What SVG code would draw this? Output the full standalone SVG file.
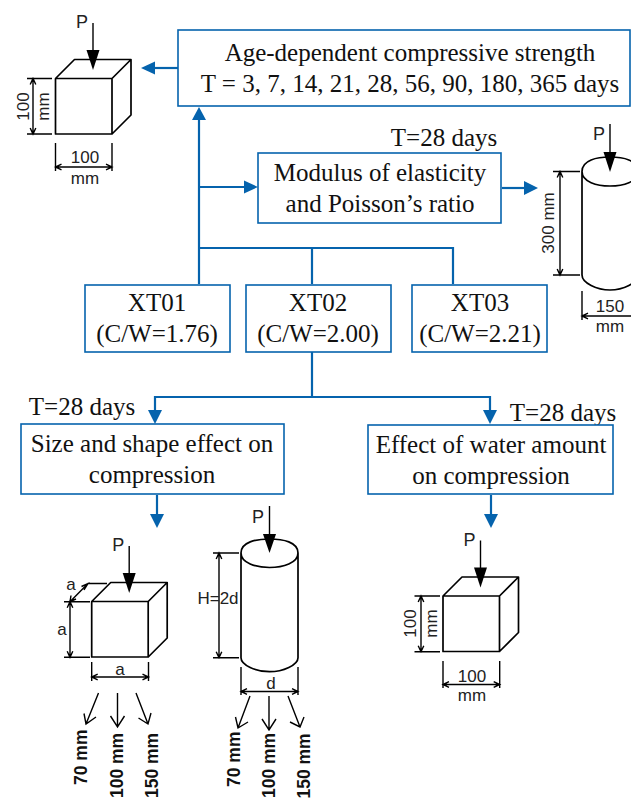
<svg xmlns="http://www.w3.org/2000/svg" width="631" height="799" viewBox="0 0 631 799">
<style>
.box{fill:#fff;stroke:#0563ad;stroke-width:1.6}
.con{fill:none;stroke:#0563ad;stroke-width:2.2}
.head{fill:#0563ad;stroke:none}
.s{fill:none;stroke:#000;stroke-width:1.7;stroke-linejoin:round}
.t{fill:none;stroke:#000;stroke-width:1.4}
.k{fill:#000;stroke:none}
.serif{font-family:"Liberation Serif",serif;font-size:25px;fill:#111;text-anchor:middle}
.sans{font-family:"Liberation Sans",sans-serif;font-size:17px;fill:#222;text-anchor:middle}
.bold{font-family:"Liberation Sans",sans-serif;font-size:17.500px;font-weight:bold;fill:#111}
</style>
<defs>
<g id="load"><path class="t" d="M93 23V55"/><path class="k" d="M86.500 50H99.500L93 70Z"/><text class="sans" x="82" y="28" style="font-size:18px">P</text></g>
<g id="cube"><path class="s" d="M55.500 78.500H112V134H55.500ZM55.500 78.500L74.500 59.500H131L112 78.500M131 59.500V115L112 134"/></g>
</defs>

<g id="connectors">
<path class="con" d="M199 284V115M199 187H247M199 248H453V284M312 248V284"/>
<path class="head" d="M199 107L192 120H206Z"/>
<path class="head" d="M258 187L244 180.500V193.500Z"/>
<path class="con" d="M178 68H153"/><path class="head" d="M141 68L155 61.500V74.500Z"/>
<path class="con" d="M502 188H527"/><path class="head" d="M538 188L524 181V195Z"/>
<path class="con" d="M312 352V397M155 411V397H490V411"/>
<path class="head" d="M155 424L148 410H162Z"/><path class="head" d="M490 424L483 410H497Z"/>
<path class="con" d="M157 495V516"/><path class="head" d="M157 528L150 514H164Z"/>
<path class="con" d="M491 495V516"/><path class="head" d="M491 528L484 514H498Z"/>
</g>

<g id="node-age"><rect class="box" x="178" y="30" width="452" height="76"/>
<text class="serif" x="410" y="61">Age-dependent compressive strength</text>
<text class="serif" x="410" y="92">T = 3, 7, 14, 21, 28, 56, 90, 180, 365 days</text></g>

<g id="node-modulus"><text class="serif" x="444" y="146">T=28 days</text>
<rect class="box" x="258" y="153" width="243" height="70"/>
<text class="serif" x="380" y="181">Modulus of elasticity</text>
<text class="serif" x="380" y="212">and Poisson’s ratio</text></g>

<g id="node-xt01"><rect class="box" x="85" y="285" width="145" height="67"/>
<text class="serif" x="157" y="311">XT01</text><text class="serif" x="157" y="342">(C/W=1.76)</text></g>
<g id="node-xt02"><rect class="box" x="246" y="285" width="145" height="67"/>
<text class="serif" x="318" y="311">XT02</text><text class="serif" x="318" y="342">(C/W=2.00)</text></g>
<g id="node-xt03"><rect class="box" x="412" y="285" width="135" height="67"/>
<text class="serif" x="480" y="311">XT03</text><text class="serif" x="480" y="342">(C/W=2.21)</text></g>

<g id="node-size"><text class="serif" x="82" y="415">T=28 days</text>
<rect class="box" x="21" y="424" width="263" height="70"/>
<text class="serif" x="152" y="452">Size and shape effect on</text>
<text class="serif" x="152" y="483">compression</text></g>

<g id="node-water"><text class="serif" x="563" y="421">T=28 days</text>
<rect class="box" x="368" y="425" width="245" height="69"/>
<text class="serif" x="491" y="453">Effect of water amount</text>
<text class="serif" x="491" y="484">on compression</text></g>

<g id="specimen-cube-top">
<use href="#cube"/><use href="#load"/>
<path class="t" d="M27 78.500H52M27 134H52M33 78.500V134M30.200 84.500L33 78.500L35.800 84.500M30.200 128L33 134L35.800 128"/>
<text class="sans" transform="translate(29,106.500) rotate(-90)">100</text>
<text class="sans" transform="translate(49,106.500) rotate(-90)">mm</text>
<path class="t" d="M55.500 143V171M112 143V171M55.500 167H112M61.500 164.200L55.500 167L61.500 169.800M106 164.200L112 167L106 169.800"/>
<text class="sans" x="85" y="163">100</text><text class="sans" x="85" y="184">mm</text>
</g>

<g id="specimen-cylinder-top">
<path class="s" d="M582 171.500C582 160 597 157 610 157C623 157 638 160 638 171.500C638 182 623 186 610 186C597 186 582 182 582 171.500ZM582 171.500V275C582 283 597 290 610 290C623 290 638 283 638 275V171.500"/>
<path class="t" d="M610 124V160"/><path class="k" d="M603.500 152H616.500L610 172Z"/>
<text class="sans" x="599" y="140" style="font-size:18px">P</text>
<path class="t" d="M553 171.500H580M553 275H580M560 171.500V275M557.200 177.500L560 171.500L562.800 177.500M557.200 269L560 275L562.800 269"/>
<text class="sans" transform="translate(554,223) rotate(-90)">300 mm</text>
<path class="t" d="M582 291V320M582 316H640M588 313.200L582 316L588 318.800"/>
<text class="sans" x="610" y="312">150</text><text class="sans" x="610" y="332">mm</text>
</g>

<g id="specimen-cube-size">
<use href="#cube" transform="translate(36.200,523)"/><use href="#load" transform="translate(36.200,523)"/>
<path class="t" d="M64 601.700H90M64 657.300H90M70 601.700V657.300M67.200 607.700L70 601.700L72.800 607.700M67.200 651.300L70 657.300L72.800 651.300"/>
<path class="t" d="M70 601.700L88 583.500H107M71 595.500L70 601.700L76 599M84 590L88 583.500L81.500 586.500"/>
<text class="sans" x="62" y="635">a</text><text class="sans" x="71" y="590">a</text>
<path class="t" d="M91.700 662V681M148.500 662V681"/>
<path class="t" d="M91.700 677H148.500M97.700 674.200L91.700 677L97.700 679.800M142.500 674.200L148.500 677L142.500 679.800"/>
<text class="sans" x="120" y="675">a</text>
<path class="t" d="M98.500 693L86 724M84 713.500L86 724L96 717M117.500 693V727M110.500 716L117.500 727L124.500 716M136 693L148 724M138.500 718L148 724L151 713"/>
<text class="bold" transform="translate(87,785) rotate(-90)">70 mm</text>
<text class="bold" transform="translate(123,798) rotate(-90)">100 mm</text>
<text class="bold" transform="translate(158,798) rotate(-90)">150 mm</text>
</g>

<g id="specimen-cylinder-size">
<path class="s" d="M241 553C241 542 256 539 269.500 539C283 539 298 542 298 553C298 563 283 567.500 269.500 567.500C256 567.500 241 563 241 553ZM241 553V657.700C241 665 256 671.700 269.500 671.700C283 671.700 298 665 298 657.700V553"/>
<path class="t" d="M269.500 506V542"/><path class="k" d="M263 534H276L269.500 553Z"/>
<text class="sans" x="258" y="523" style="font-size:18px">P</text>
<path class="t" d="M213 553H239M213 657.700H239M219 553V657.700M216.200 559L219 553L221.800 559M216.200 651.700L219 657.700L221.800 651.700"/>
<text class="sans" x="218" y="604">H=2d</text>
<path class="t" d="M241 667V695M298 667V695M241 691.500H298M247 688.700L241 691.500L247 694.300M292 688.700L298 691.500L292 694.300"/>
<text class="sans" x="271" y="689">d</text>
<path class="t" d="M250 696L238 728M235.500 717L238 728L248 722M269 696V730M262 719L269 730L276 719M288 696L300 727M290 722L300 727L304 717"/>
<text class="bold" transform="translate(240,787) rotate(-90)">70 mm</text>
<text class="bold" transform="translate(275,798) rotate(-90)">100 mm</text>
<text class="bold" transform="translate(310,798.500) rotate(-90)">150 mm</text>
</g>

<g id="specimen-cube-water">
<use href="#cube" transform="translate(387.500,517.500)"/><use href="#load" transform="translate(387.500,517.500)"/>
<path class="t" d="M414.500 596H440M414.500 651.700H440M421 596V651.700M418.200 602L421 596L423.800 602M418.200 645.700L421 651.700L423.800 645.700"/>
<text class="sans" transform="translate(416,623.500) rotate(-90)">100</text>
<text class="sans" transform="translate(437,623.500) rotate(-90)">mm</text>
<path class="t" d="M443 661V688M499.700 661V688"/>
<path class="t" d="M443 684.500H499.700M449 681.700L443 684.500L449 687.300M493.700 681.700L499.700 684.500L493.700 687.300"/>
<text class="sans" x="472" y="682">100</text><text class="sans" x="472" y="701">mm</text>
</g>
</svg>
